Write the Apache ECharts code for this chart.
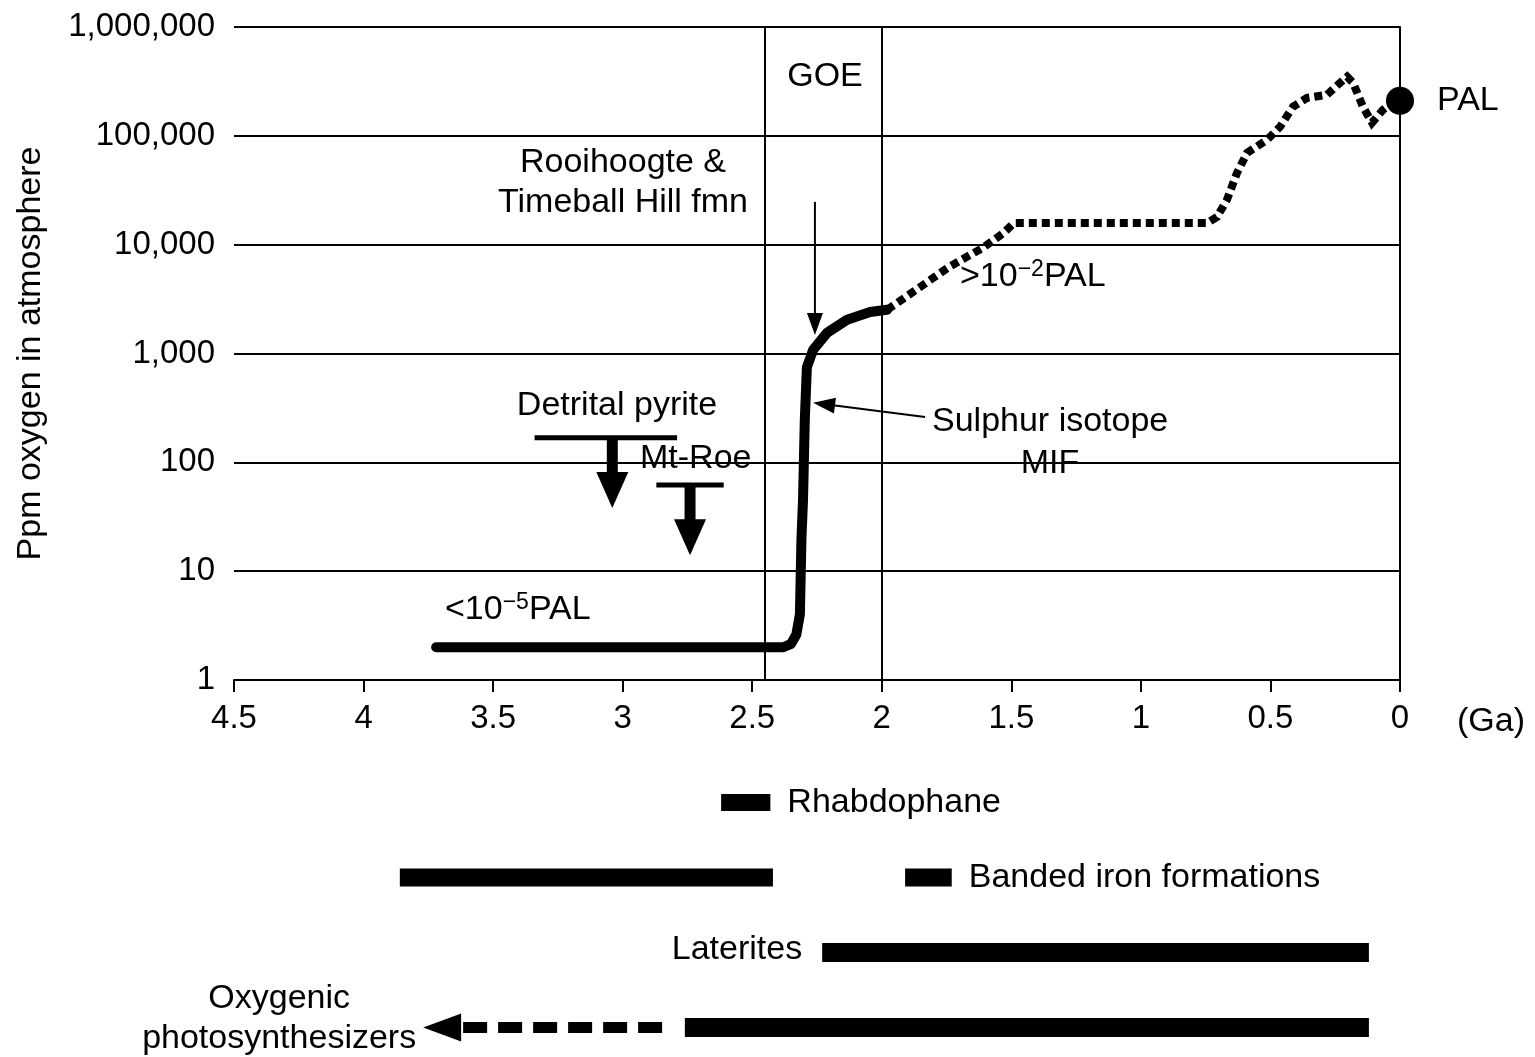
<!DOCTYPE html>
<html>
<head>
<meta charset="utf-8">
<title>Atmospheric oxygen</title>
<script src="https://cdn.jsdelivr.net/npm/echarts@6/dist/echarts.min.js"></script>
<style>html,body{margin:0;padding:0;background:#fff;}</style>
</head>
<body>
<div id="chart" style="width:1535px;height:1057px;"></div>
<script>
var FONT = '"Liberation Sans", Arial, Helvetica, sans-serif';

// x ticks (Ga) and y range (ppm)
var xTicks = [4.5, 4, 3.5, 3, 2.5, 2, 1.5, 1, 0.5, 0];
var yMin = 1, yMax = 1000000;

// oxygen curve, [Ga, ppm]
var solidCurve = [[3.72, 2], [2.38, 2], [2.35, 2.15], [2.33, 2.6], [2.316, 4], [2.31, 20], [2.304, 45],
  [2.297, 250], [2.289, 750], [2.265, 1080], [2.211, 1550], [2.134, 2040], [2.045, 2410], [1.98, 2520]];
var dottedCurve = [[1.98, 2520], [1.94, 2920], [1.74, 6250], [1.61, 9350], [1.53, 12800], [1.49, 15800],
  [0.745, 15800], [0.706, 18000], [0.668, 25800], [0.629, 45700], [0.59, 69800], [0.513, 91900],
  [0.463, 121000], [0.413, 185000], [0.359, 223000], [0.282, 238000], [0.231, 307000], [0.204, 349000],
  [0.181, 307000], [0.143, 185000], [0.108, 132000], [0.066, 173000], [0.027, 205000], [0, 210000]];
var palPoint = [[0, 210000]];

// GOE boundaries and right frame (Ga)
var verticalLines = [2.45, 2.0, 0];

// upper limits: [fromGa, toGa, arrowGa, limitPpm, arrowTipPpm]
var upperLimits = [[3.34, 2.79, 3.04, 168, 38], [2.87, 2.61, 2.74, 62, 14]];

// pointer arrows: [fromGa, fromPpm, toGa, toPpm]
var pointers = [[2.258, 24700, 2.258, 1480], [1.833, 261, 2.265, 352]];

// proxy ranges below the chart, [startGa, endGa]
var rowNames = ['Rhabdophane', 'Banded iron formations', 'Laterites', 'Oxygenic\nphotosynthesizers'];
var rhabdophane = [[2.62, 2.43]];
var bandedIron = [[3.86, 2.42], [1.91, 1.73]];
var laterites = [[2.23, 0.12]];
var photosynthesizers = [[2.76, 0.12]];
var photosynthInferred = [[3.77, 2.84]];

var chart = echarts.init(document.getElementById('chart'));

function renderLimit(params, api) {
  var a = api.coord([api.value(0), api.value(3)]);
  var b = api.coord([api.value(1), api.value(3)]);
  var top = api.coord([api.value(2), api.value(3)]);
  var tip = api.coord([api.value(2), api.value(4)]);
  var headLen = 36, headHalf = 16, shaft = 11;
  var base = tip[1] - headLen;
  return {
    type: 'group',
    children: [
      { type: 'line', shape: { x1: a[0], y1: a[1], x2: b[0], y2: b[1] }, style: { stroke: '#000', lineWidth: 5 } },
      { type: 'rect', shape: { x: top[0] - shaft / 2, y: top[1], width: shaft, height: base - top[1] + 1 }, style: { fill: '#000' } },
      { type: 'polygon', shape: { points: [[tip[0], tip[1]], [tip[0] - headHalf, base], [tip[0] + headHalf, base]] }, style: { fill: '#000' } }
    ]
  };
}

function renderPointer(params, api) {
  var a = api.coord([api.value(0), api.value(1)]);
  var b = api.coord([api.value(2), api.value(3)]);
  var dx = b[0] - a[0], dy = b[1] - a[1];
  var len = Math.sqrt(dx * dx + dy * dy), ux = dx / len, uy = dy / len;
  var hl = 22, hw = 8;
  var base = [b[0] - ux * hl, b[1] - uy * hl];
  return {
    type: 'group',
    children: [
      { type: 'line', shape: { x1: a[0], y1: a[1], x2: base[0], y2: base[1] }, style: { stroke: '#000', lineWidth: 2 } },
      { type: 'polygon', shape: { points: [b, [base[0] - uy * hw, base[1] + ux * hw], [base[0] + uy * hw, base[1] - ux * hw]] }, style: { fill: '#000' } }
    ]
  };
}

// one custom series per proxy row
function rowSeries(ranges, row, opt) {
  return {
    type: 'custom',
    xAxisIndex: 1,
    yAxisIndex: 1,
    silent: true,
    data: ranges.map(function (r) { return [r[0], r[1], row]; }),
    encode: { x: [0, 1], y: 2 },
    renderItem: function (params, api) {
      var a = api.coord([api.value(0), api.value(2)]);
      var b = api.coord([api.value(1), api.value(2)]);
      var children = [];
      var last = params.dataIndex === ranges.length - 1;
      if (opt.dashed) {
        var headLen = 38, headHalf = 14;
        children.push({ type: 'line', shape: { x1: b[0] - 2, y1: b[1], x2: a[0] + headLen - 4, y2: a[1] },
          style: { stroke: '#000', lineWidth: 11, lineDash: [24, 11] } });
        children.push({ type: 'polygon', shape: { points: [[a[0], a[1]], [a[0] + headLen, a[1] - headHalf], [a[0] + headLen, a[1] + headHalf]] },
          style: { fill: '#000' } });
        children.push({ type: 'text', x: a[0] - 144, y: a[1] - 9,
          style: { text: rowNames[row], fill: '#000', fontSize: 34, fontFamily: FONT, lineHeight: 40, align: 'center', verticalAlign: 'middle' } });
      } else {
        children.push({ type: 'rect', shape: { x: a[0], y: a[1] - opt.h / 2, width: b[0] - a[0], height: opt.h }, style: { fill: '#000' } });
        if (opt.label === 'right' && last) {
          children.push({ type: 'text', x: b[0] + 17, y: b[1],
            style: { text: rowNames[row], fill: '#000', fontSize: 34, fontFamily: FONT, align: 'left', verticalAlign: 'middle' } });
        }
        if (opt.label === 'left' && params.dataIndex === 0) {
          children.push({ type: 'text', x: a[0] - 20, y: a[1] - 3,
            style: { text: rowNames[row], fill: '#000', fontSize: 34, fontFamily: FONT, align: 'right', verticalAlign: 'middle' } });
        }
      }
      return { type: 'group', children: children };
    }
  };
}

function txt(x, y, text, align) {
  return { type: 'text', x: x, y: y, silent: true,
    style: { text: text, fill: '#000', fontSize: 34, fontFamily: FONT, align: align || 'center', verticalAlign: 'middle' } };
}
function supTxt(x, y, pre, sup, post) {
  return { type: 'text', x: x, y: y, silent: true,
    style: {
      text: '{n|' + pre + '}{s|' + sup + '}{n|' + post + '}',
      align: 'left', verticalAlign: 'middle',
      rich: {
        n: { fill: '#000', fontSize: 34, fontFamily: FONT, lineHeight: 38 },
        s: { fill: '#000', fontSize: 23, fontFamily: FONT, lineHeight: 23, verticalAlign: 'top' }
      }
    } };
}

var option = {
  animation: false,
  backgroundColor: '#fff',
  textStyle: { fontFamily: FONT },
  grid: [
    { left: 234, right: 135, top: 27, bottom: 377, outerBoundsMode: 'none' },
    { left: 234, right: 135, top: 765, height: 300, outerBoundsMode: 'none' }
  ],
  xAxis: [
    {
      type: 'value', gridIndex: 0, min: 0, max: 4.5, interval: 0.5, inverse: true,
      axisLine: { show: true, lineStyle: { color: '#000', width: 2 } },
      axisTick: { show: true, length: 12, lineStyle: { color: '#000', width: 2 } },
      axisLabel: { color: '#000', fontSize: 33, fontFamily: FONT, margin: 22, showMinLabel: true, showMaxLabel: true,
        formatter: function (v) { return xTicks.indexOf(v) >= 0 ? String(v) : ''; } },
      splitLine: { show: false }
    },
    { type: 'value', gridIndex: 1, min: 0, max: 4.5, inverse: true, show: false }
  ],
  yAxis: [
    {
      type: 'log', gridIndex: 0, logBase: 10, min: yMin, max: yMax, splitNumber: 6,
      name: 'Ppm oxygen in atmosphere', nameLocation: 'middle', nameRotate: 90, nameGap: 186,
      nameTextStyle: { color: '#000', fontSize: 34, fontFamily: FONT },
      axisLine: { show: true, lineStyle: { color: '#000', width: 2 } },
      axisTick: { show: false },
      minorTick: { show: false },
      axisLabel: { color: '#000', fontSize: 33, fontFamily: FONT, margin: 19, showMinLabel: true, showMaxLabel: true,
        formatter: function (v) { return Math.round(v).toLocaleString('en-US'); } },
      splitLine: { show: true, lineStyle: { color: '#000', width: 2 } }
    },
    { type: 'category', gridIndex: 1, data: rowNames, inverse: true, show: false }
  ],
  series: [
    {
      type: 'line', xAxisIndex: 0, yAxisIndex: 0, data: solidCurve, symbol: 'none', silent: true,
      lineStyle: { color: '#000', width: 10, cap: 'round', join: 'round' },
      markLine: {
        silent: true, symbol: 'none', label: { show: false },
        lineStyle: { color: '#000', width: 2, type: 'solid' },
        data: verticalLines.map(function (v) { return { xAxis: v }; })
      },
      z: 3
    },
    {
      type: 'line', xAxisIndex: 0, yAxisIndex: 0, data: dottedCurve, symbol: 'none', silent: true,
      lineStyle: { color: '#000', width: 8, type: [8, 5], cap: 'butt', join: 'miter' },
      z: 3
    },
    {
      type: 'scatter', xAxisIndex: 0, yAxisIndex: 0, data: palPoint, symbolSize: 28, clip: false, silent: true,
      itemStyle: { color: '#000', opacity: 1 },
      label: { show: true, position: 'right', distance: 23, formatter: 'PAL', color: '#000', opacity: 1, fontSize: 34, fontFamily: FONT },
      z: 4
    },
    {
      type: 'custom', xAxisIndex: 0, yAxisIndex: 0, data: upperLimits, silent: true, clip: false,
      encode: { x: [0, 1, 2], y: [3, 4] }, renderItem: renderLimit, z: 4
    },
    {
      type: 'custom', xAxisIndex: 0, yAxisIndex: 0, data: pointers, silent: true, clip: false,
      encode: { x: [0, 2], y: [1, 3] }, renderItem: renderPointer, z: 4
    },
    rowSeries(rhabdophane, 0, { h: 17, label: 'right' }),
    rowSeries(bandedIron, 1, { h: 18, label: 'right' }),
    rowSeries(laterites, 2, { h: 19, label: 'left' }),
    rowSeries(photosynthesizers, 3, { h: 19 }),
    rowSeries(photosynthInferred, 3, { dashed: true })
  ],
  graphic: [
    txt(825, 77, 'GOE'),
    txt(623, 163, 'Rooihoogte &'),
    txt(623, 203, 'Timeball Hill fmn'),
    txt(617, 406, 'Detrital pyrite'),
    txt(640, 459, 'Mt-Roe', 'left'),
    txt(932, 422, 'Sulphur isotope', 'left'),
    txt(1050, 464, 'MIF'),
    txt(1457, 722, '(Ga)', 'left'),
    supTxt(445, 610, '<10', '\u22125', 'PAL'),
    supTxt(960, 277, '>10', '\u22122', 'PAL')
  ]
};

chart.setOption(option);
</script>
</body>
</html>
